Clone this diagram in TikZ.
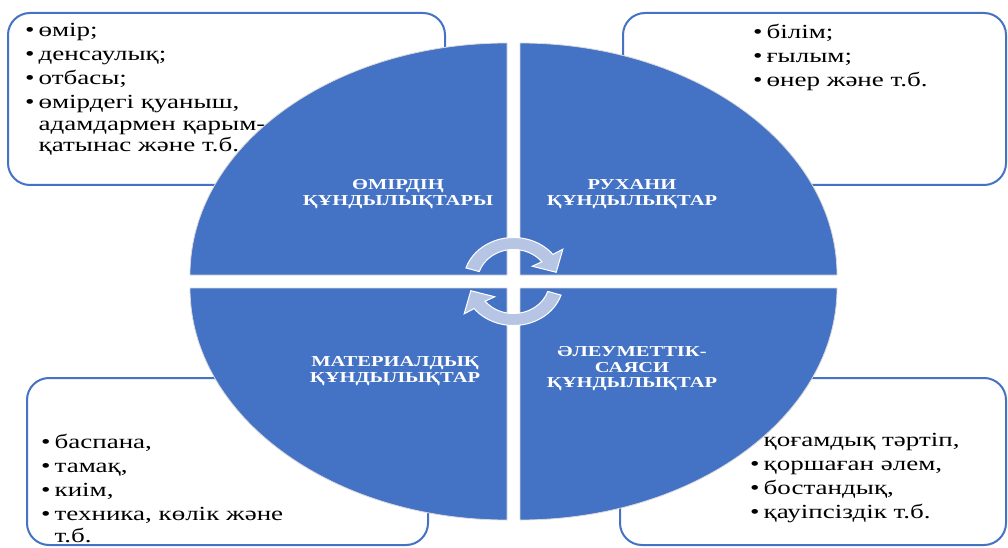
\documentclass[tikz,border=0pt]{standalone}
\usepackage{fontspec}
\setmainfont{Liberation Serif}[FakeStretch=1.35]
\usepackage{tikz}
\usetikzlibrary{positioning}
\definecolor{qblue}{RGB}{68,114,196}
\definecolor{qarrow}{RGB}{183,197,228}
\newcommand{\bul}{\textbullet\kern4pt}
\newcommand{\cont}{\hphantom{\bul}}
\tikzset{
  listbox/.style={draw=qblue, line width=2pt, fill=white, rounded corners=22pt, inner sep=0pt},
  quarter/.style={fill=qblue, draw=black!15, line width=0.8pt},
  qlabel/.style={text=white, font=\fontsize{15.2}{15.5}\selectfont\bfseries, align=center, inner sep=0pt},
  listtext/.style={font=\fontsize{20}{21.5}\selectfont, align=left, anchor=north west, inner sep=0pt,
    execute at begin node=\strut}
}
\begin{document}
\begin{tikzpicture}[x=1pt,y=1pt]
\useasboundingbox (0,0) rectangle (1008,547);
% boxes round the circle
\node[listbox, minimum width=437pt, minimum height=172pt] (lifebox) at (226.5,448) {};
\node[listbox, minimum width=383pt, minimum height=172pt] (spiritbox) at (814.5,448) {};
\node[listbox, minimum width=401pt, minimum height=167pt] (materialbox) at (227.5,85.5) {};
\node[listbox, minimum width=386pt, minimum height=167pt] (socialbox) at (813,85.5) {};
\node[listtext] (lifelist) at ([shift={(18,-11.5)}]lifebox.north west)
  {\bul өмір;\\[2.5pt] \bul денсаулық;\\[2.5pt] \bul отбасы;\\[2.5pt] \bul өмірдегі қуаныш,\\ \cont адамдармен қарым-\\ \cont қатынас және т.б.};
\node[listtext] (spiritlist) at ([shift={(131,-11.5)}]spiritbox.north west)
  {\bul білім;\\[2.5pt] \bul ғылым;\\[2.5pt] \bul өнер және т.б.};
\node[listtext] (materiallist) at ([shift={(15,-57)}]materialbox.north west)
  {\bul баспана,\\[2.5pt] \bul тамақ,\\[2.5pt] \bul киім,\\[2.5pt] \bul техника, көлік және\\ \cont т.б.};
\node[listtext] (sociallist) at ([shift={(131,-56)}]socialbox.north west)
  {\bul қоғамдық тәртіп,\\[2.5pt] \bul қоршаған әлем,\\[2.5pt] \bul бостандық,\\[2.5pt] \bul қауіпсіздік т.б.};
% the four quarters
\coordinate (c) at (513.5,265.5);
\foreach \sx/\sy/\a in {-1/1/90, 1/1/0, -1/-1/180, 1/-1/270}{
  \filldraw[quarter] ([shift={(\sx*6.5,\sy*6.5)}]c) -- +(\a:317 and 232)
    arc[start angle=\a, delta angle=90, x radius=317, y radius=232] -- cycle;}
\node[qlabel] (life) at (398,353) {ӨМІРДІҢ\\ҚҰНДЫЛЫҚТАРЫ};
\node[qlabel] (spirit) at (632,353) {РУХАНИ\\ҚҰНДЫЛЫҚТАР};
\node[qlabel] (material) at (395,176) {МАТЕРИАЛДЫҚ\\ҚҰНДЫЛЫҚТАР};
\node[qlabel] (social) at (632,178) {ӘЛЕУМЕТТІК-\\САЯСИ\\ҚҰНДЫЛЫҚТАР};
% turning arrows in the middle
\foreach \r in {0,180}{
  \begin{scope}[shift={(c)}, rotate=\r]
    \filldraw[fill=qarrow, draw=white, line width=1pt] (162:50 and 44)
      arc[start angle=162, end angle=38, x radius=50, y radius=44]
      -- (36:61 and 55) -- (14:44 and 38) -- (44:26 and 22) -- (38:36 and 32)
      arc[start angle=38, end angle=162, x radius=36, y radius=32] -- cycle;
  \end{scope}}
\end{tikzpicture}
\end{document}
